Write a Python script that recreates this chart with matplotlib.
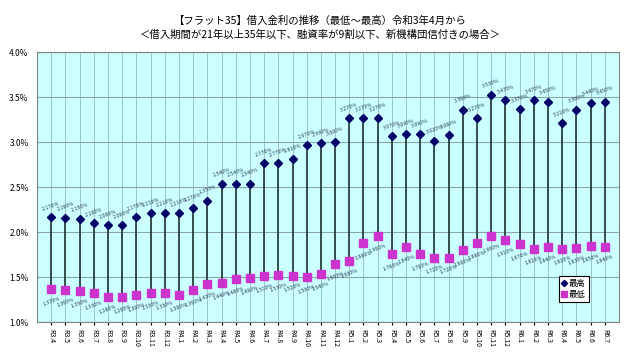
import matplotlib
matplotlib.use("Agg")
import matplotlib.pyplot as plt
import numpy as np

plt.rcParams["font.family"] = ["Noto Sans CJK JP", "DejaVu Sans"]

# months R3.4 .. R6.7
months = (["R3.%d" % m for m in range(4, 13)] + ["R4.%d" % m for m in range(1, 13)]
          + ["R5.%d" % m for m in range(1, 13)] + ["R6.%d" % m for m in range(1, 8)])

rate_max = [2.17, 2.16, 2.15, 2.10, 2.08, 2.08, 2.17, 2.21, 2.21,
            2.21, 2.27, 2.35, 2.54, 2.54, 2.54, 2.77, 2.77, 2.81, 2.97, 2.99, 3.00,
            3.27, 3.27, 3.27, 3.07, 3.09, 3.09, 3.02, 3.08, 3.36, 3.27, 3.53, 3.47,
            3.37, 3.47, 3.45, 3.21, 3.36, 3.44, 3.45]
rate_min = [1.37, 1.36, 1.35, 1.33, 1.28, 1.28, 1.30, 1.33, 1.33,
            1.30, 1.36, 1.43, 1.44, 1.48, 1.49, 1.51, 1.53, 1.52, 1.50, 1.54, 1.65,
            1.68, 1.88, 1.96, 1.76, 1.84, 1.76, 1.72, 1.72, 1.80, 1.88, 1.96, 1.91,
            1.87, 1.82, 1.84, 1.82, 1.83, 1.85, 1.84]

TITLE = ("【フラット35】借入金利の推移（最低～最高）令和3年4月から\n"
         "＜借入期間が21年以上35年以下、融資率が9割以下、新機構団信付きの場合＞")

BG = "#ccffff"
HI_C = "#000066"
LO_C = "#cc33cc"
LINE_C = "#1e3434"
LBL_C = "#2f3f5f"

fig = plt.figure(figsize=(6.4, 3.52), dpi=100)
ax = fig.add_axes([37 / 640, 1 - 322.3 / 352, (619 - 37) / 640, (322.3 - 52.3) / 352])
ax.set_facecolor(BG)

x = np.arange(len(months))
ax.vlines(x, rate_min, rate_max, color=LINE_C, lw=1.2, zorder=3)
ax.plot(x, rate_max, ls="none", marker="D", ms=4, color=HI_C, zorder=4, label="最高")
ax.plot(x, rate_min, ls="none", marker="s", ms=5.2, color=LO_C, zorder=4, label="最低")

for xi, hi, lo in zip(x, rate_max, rate_min):
    ax.annotate(f"{hi:.3f}%", xy=(xi, hi), xytext=(0, 4), textcoords="offset points",
                ha="center", va="bottom", rotation=20, fontsize=3.8, color=LBL_C, zorder=5)
    ax.annotate(f"{lo:.3f}%", xy=(xi, lo), xytext=(0, -5), textcoords="offset points",
                ha="center", va="top", rotation=20, fontsize=3.8, color=LBL_C, zorder=5)

ax.set_xlim(-1, len(months))
ax.set_ylim(1.0, 4.0)
ax.set_yticks(np.arange(1.0, 4.01, 0.5))
ax.set_yticklabels([f"{v:.1f}%" for v in np.arange(1.0, 4.01, 0.5)], fontsize=6)
ax.set_xticks(x)
ax.set_xticklabels(months, rotation=-90, fontsize=5, va="top", ha="center")
ax.tick_params(axis="x", length=2, pad=3)
ax.tick_params(axis="y", length=0, pad=6)

ax.grid(axis="y", color="#8aa8a8", lw=0.8, zorder=1)
ax.grid(axis="x", color="#9cc4c4", lw=0.7, zorder=1)
ax.set_axisbelow(True)
for s in ax.spines.values():
    s.set_color("#808080")
    s.set_linewidth(0.8)

leg = ax.legend(loc="lower right", bbox_to_anchor=(0.955, 0.06), fontsize=6,
                frameon=True, fancybox=False, edgecolor="black", framealpha=1,
                handlelength=0.6, handletextpad=0.3, borderpad=0.35, labelspacing=0.3,
                markerscale=0.8)
leg.get_frame().set_linewidth(0.8)

fig.text(0.5, 0.955, TITLE, ha="center", va="top", fontsize=7.5, linespacing=1.4)

fig.savefig("out.png", dpi=100, facecolor="white")
